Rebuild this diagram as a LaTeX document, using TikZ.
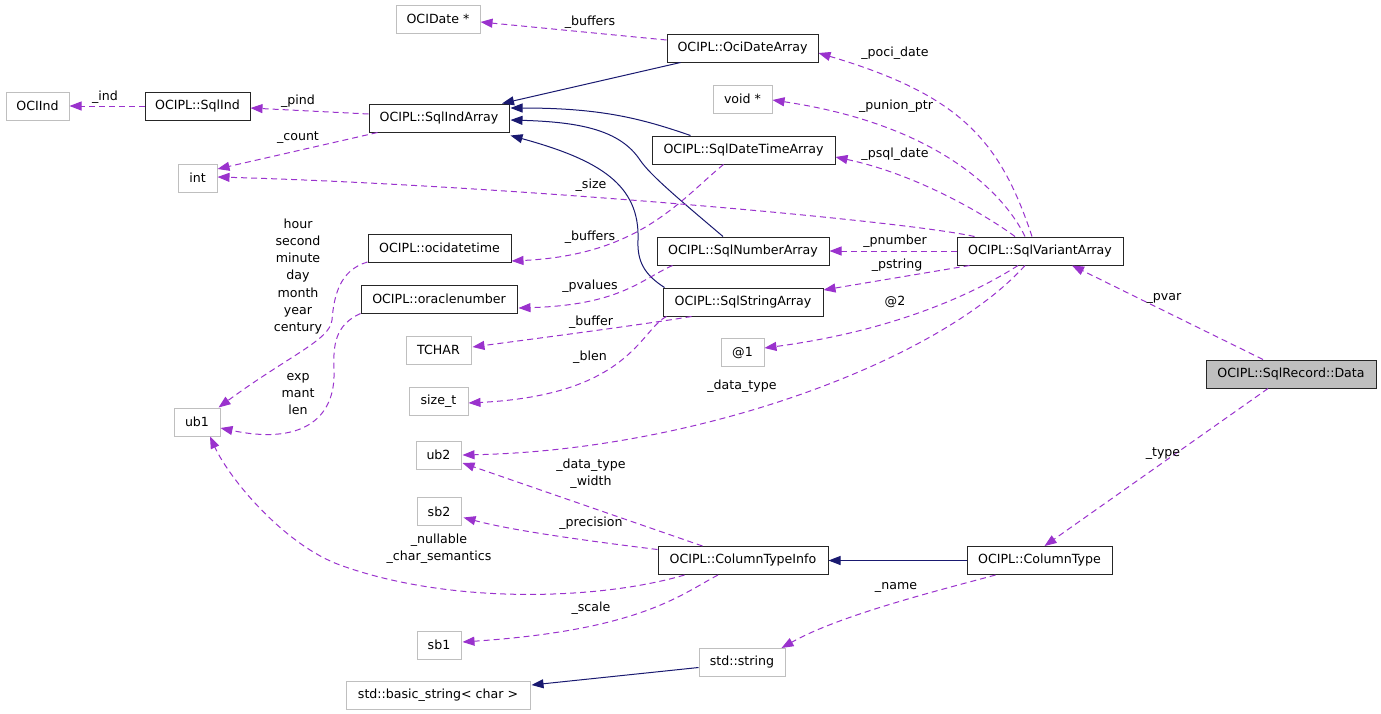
\documentclass[tikz,border=0pt]{standalone}
\usepackage{fontspec}
\setmainfont{DejaVu Sans}
\usetikzlibrary{arrows.meta,calc}
\definecolor{usecol}{HTML}{9A32CD}
\definecolor{inhcol}{HTML}{191970}
\definecolor{graybd}{HTML}{BFBFBF}
\begin{document}
\begin{tikzpicture}[x=1pt,y=-1pt,
  base/.style={rectangle,minimum height=28pt,inner sep=0pt,line width=1pt,font=\fontsize{12.6}{15}\selectfont},
  cls/.style={base,draw=black!85},
  ext/.style={base,draw=graybd},
  cur/.style={base,draw=black!85,fill=graybd},
  inh/.style={draw=inhcol,line width=1pt,-{Triangle[length=12pt,width=9pt]}},
  use/.style={draw=usecol,line width=1pt,dash pattern=on 6pt off 4pt,-{Triangle[length=12pt,width=9pt,fill=usecol]}},
  lbl/.style={font=\fontsize{12.6}{17.2}\selectfont,align=center,inner sep=0pt}]
\useasboundingbox (0,0) rectangle (1381,713);
% nodes
\node[ext,minimum width=84pt]  (ocidate)    at (438,19)    {OCIDate *};
\node[cls,minimum width=151pt] (ocidatearr) at (742.5,48)  {OCIPL::OciDateArray};
\node[ext,minimum width=63pt]  (ociind)     at (37.5,106)  {OCIInd};
\node[cls,minimum width=105pt] (sqlind)     at (197.5,106) {OCIPL::SqlInd};
\node[cls,minimum width=140pt] (sqlindarr)  at (439,118)   {OCIPL::SqlIndArray};
\node[ext,minimum width=59pt]  (voidp)      at (742.5,99)  {void *};
\node[cls,minimum width=183pt] (sqldt)      at (743.5,150) {OCIPL::SqlDateTimeArray};
\node[ext,minimum width=39pt]  (int)        at (197.5,178) {int};
\node[cls,minimum width=143pt] (ocidt)      at (439.5,248) {OCIPL::ocidatetime};
\node[cls,minimum width=156pt] (oranum)     at (439,299)   {OCIPL::oraclenumber};
\node[cls,minimum width=172pt] (sqlnum)     at (743,251)   {OCIPL::SqlNumberArray};
\node[cls,minimum width=160pt] (sqlstr)     at (743,302)   {OCIPL::SqlStringArray};
\node[cls,minimum width=166pt] (sqlvar)     at (1040,251)  {OCIPL::SqlVariantArray};
\node[cur,minimum width=170pt] (data)       at (1291,374)  {OCIPL::SqlRecord::Data};
\node[ext,minimum width=65pt]  (tchar)      at (438.5,350) {TCHAR};
\node[ext,minimum width=59pt]  (sizet)      at (438.5,401) {size\_t};
\node[ext,minimum width=43pt]  (at1)        at (742.5,352.5) {@1};
\node[ext,minimum width=46pt]  (ub1)        at (197,422)   {ub1};
\node[ext,minimum width=45pt]  (ub2)        at (438.5,455) {ub2};
\node[ext,minimum width=44pt]  (sb2)        at (439,511.5) {sb2};
\node[ext,minimum width=44pt]  (sb1)        at (439,645)   {sb1};
\node[ext,minimum width=184pt] (bstr)       at (438,695)   {std::basic\_string\textless{} char \textgreater};
\node[cls,minimum width=170pt] (cti)        at (743,560.5) {OCIPL::ColumnTypeInfo};
\node[cls,minimum width=145pt] (ct)         at (1039.5,560.5) {OCIPL::ColumnType};
\node[ext,minimum width=86pt]  (stdstr)     at (742,662.5) {std::string};
% inheritance
\draw[inh] ($(ocidatearr.south)+(-62,0)$) -- ($(sqlindarr.north)+(63,0)$);
\draw[inh] ($(sqldt.north)+(-53,0)$) .. controls (640,118) and (600,108) .. ($(sqlindarr.east)+(1,-10)$);
\draw[inh] ($(sqlnum.north)+(-20,0)$) .. controls (680,200) and (650,175) .. (640,160) .. controls (620,130) and (580,122) .. ($(sqlindarr.east)+(1,2)$);
\draw[inh] ($(sqlstr.north west)+(2,0)$) .. controls (645,275) and (637,262) .. (638,240) .. controls (640,185) and (600,160) .. ($(sqlindarr.south east)+(1,3)$);
\draw[inh] (ct.west) -- (cti.east);
\draw[inh] ($(stdstr.west)+(0,5)$) -- ($(bstr.east)+(1,-10)$);
% usage
\draw[use] ($(ocidatearr.west)+(0,-8)$) -- ($(ocidate.east)+(0,3)$);
\node[lbl] (l1) at (590,22) {\_buffers};
\draw[use] (sqlind.west) -- (ociind.east);
\node[lbl] (l2) at (105,97) {\_ind};
\draw[use] ($(sqlindarr.west)+(0,-4)$) -- ($(sqlind.east)+(0,2)$);
\node[lbl] (l3) at (298,101) {\_pind};
\draw[use] ($(sqlindarr.south west)+(9,0)$) -- ($(int.east)+(0,-9)$);
\node[lbl] (l4) at (298,138) {\_count};
\draw[use] ($(sqlvar.north west)+(18,0)$) .. controls (900,220) and (500,185) .. ($(int.east)+(0,-1)$);
\node[lbl] (l5) at (591,185) {\_size};
\draw[use] ($(sqlvar.north)+(-8,0)$) .. controls (1000,140) and (960,95) .. ($(ocidatearr.east)+(0,5)$);
\node[lbl] (l6) at (895,53) {\_poci\_date};
\draw[use] ($(sqlvar.north)+(-15,0)$) .. controls (1005,195) and (940,125) .. ($(voidp.east)+(0,1)$);
\node[lbl] (l7) at (896,106) {\_punion\_ptr};
\draw[use] ($(sqlvar.north)+(-25,0)$) .. controls (990,218) and (920,175) .. ($(sqldt.east)+(0,7)$);
\node[lbl] (l8) at (895,154) {\_psql\_date};
\draw[use] (sqlvar.west) -- (sqlnum.east);
\node[lbl] (l9) at (895,241) {\_pnumber};
\draw[use] ($(sqlvar.south west)+(13,0)$) -- ($(sqlstr.east)+(0,-12)$);
\node[lbl] (l10) at (897,265) {\_pstring};
\draw[use] ($(sqlvar.south)+(-22,0)$) .. controls (980,290) and (900,330) .. ($(at1.east)+(0,-4.5)$);
\node[lbl] (l11) at (895,302) {@2};
\draw[use] ($(sqlvar.south)+(-15,0)$) .. controls (940,360) and (700,450) .. ($(ub2.east)+(1,0)$);
\node[lbl] (l12) at (742,386) {\_data\_type};
\draw[use] ($(sqldt.south)+(-20,0)$) .. controls (680,200) and (640,255) .. ($(ocidt.east)+(0,13)$);
\node[lbl] (l13) at (590,237) {\_buffers};
\draw[use] ($(sqlnum.south west)+(16,0)$) .. controls (640,280) and (620,305) .. ($(oranum.east)+(1,9)$);
\node[lbl] (l14) at (590,286) {\_pvalues};
\draw[use] ($(sqlstr.south west)+(29,0)$) .. controls (640,325) and (540,338) .. ($(tchar.east)+(1,-3)$);
\node[lbl] (l15) at (591,322) {\_buffer};
\draw[use] ($(sqlstr.south west)+(4,0)$) .. controls (640,330) and (630,395) .. ($(sizet.east)+(0,2)$);
\node[lbl] (l16) at (590,357) {\_blen};
\draw[use] ($(ocidt.west)+(0,14)$) .. controls (340,270) and (334,295) .. (332,320) .. controls (330,340) and (290,355) .. ($(ub1.north east)+(-2,0)$);
\node[lbl] (l17) at (298,276.5) {hour\\second\\minute\\day\\month\\year\\century};
\draw[use] (oranum.south west) .. controls (335,325) and (333,345) .. (334,370) .. controls (336,420) and (300,445) .. ($(ub1.east)+(0,6)$);
\node[lbl] (l18) at (298,394) {exp\\mant\\len};
\draw[use] ($(cti.south west)+(27,0)$) .. controls (600,600) and (450,605) .. (340,565) .. controls (285,545) and (230,480) .. ($(ub1.south)+(13,0)$);
\node[lbl] (l19) at (439,548.5) {\_nullable\\\_char\_semantics};
\draw[use] ($(cti.north west)+(45,0)$) -- ($(ub2.east)+(1,8)$);
\node[lbl] (l20) at (591,474) {\_data\_type\\\_width};
\draw[use] ($(cti.west)+(0,-11)$) .. controls (580,540) and (510,530) .. ($(sb2.east)+(2,6)$);
\node[lbl] (l21) at (591,523) {\_precision};
\draw[use] ($(cti.south)+(-25,0)$) .. controls (680,595) and (640,630) .. ($(sb1.east)+(1,-3)$);
\node[lbl] (l22) at (591,608) {\_scale};
\draw[use] ($(ct.south west)+(29,0)$) .. controls (940,590) and (840,615) .. ($(stdstr.north east)+(-4,0)$);
\node[lbl] (l23) at (896,587) {\_name};
\draw[use] ($(data.north)+(-28,0)$) -- ($(sqlvar.south)+(32,0)$);
\node[lbl] (l24) at (1164,298) {\_pvar};
\draw[use] ($(data.south)+(-23,0)$) -- ($(ct.north)+(5,0)$);
\node[lbl] (l25) at (1163,454) {\_type};
\end{tikzpicture}
\end{document}
